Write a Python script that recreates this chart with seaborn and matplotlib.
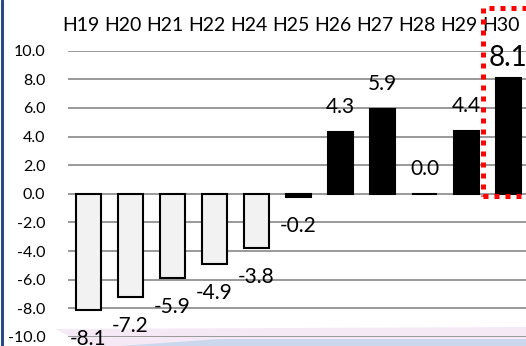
import numpy as np
import seaborn as sns
import matplotlib.pyplot as plt
from matplotlib.patches import Rectangle, Polygon
from matplotlib.lines import Line2D
import matplotlib.transforms as mtransforms

# --- data ---
years = ['H19', 'H20', 'H21', 'H22', 'H24', 'H25', 'H26', 'H27', 'H28', 'H29', 'H30']
values = [-8.1, -7.2, -5.9, -4.9, -3.8, -0.2, 4.3, 5.9, 0.0, 4.4, 8.1]
bar_colors = ['#f2f2f2'] * 5 + ['#000000'] * 6
y_ticks = np.arange(-10, 10.1, 2)
highlight = 'H30'

sns.set_theme(style="white")
plt.rcParams['font.family'] = ['Lato', 'DejaVu Sans']

W, H = 526, 346
fig = plt.figure(figsize=(W / 100, H / 100), dpi=100)
ax = fig.add_axes([67.5 / W, 9 / H, 462 / W, 286.3 / H])
ax.set_facecolor('none')

# background decoration (slide template swoosh + left border)
fig.patches.append(Polygon([(55 / W, 1 - 329 / H), (1, 1 - 327 / H), (1, 0), (90 / W, 0)],
                           closed=True, transform=fig.transFigure, facecolor='#f5e9f5',
                           edgecolor='none', zorder=-2))
fig.patches.append(Polygon([(120 / W, 0), (220 / W, 1 - 339 / H), (1, 1 - 339 / H), (1, 0)],
                           closed=True, transform=fig.transFigure, facecolor='#cad7ec',
                           edgecolor='none', zorder=-1))
fig.add_artist(Line2D([1.5 / W, 1.5 / W], [0, 1], transform=fig.transFigure,
                      color='#2b4a8a', lw=2.2))

sns.barplot(x=years, y=values, hue=years, palette=bar_colors, order=years,
            width=0.6, edgecolor='black', linewidth=1.5, legend=False, ax=ax, zorder=3)

ax.set_xlim(-0.5, len(years) - 0.5)
ax.set_ylim(-10, 10)
ax.set_yticks(y_ticks)
ax.set_yticklabels([f'{t:.1f}' for t in y_ticks])
ax.yaxis.grid(True, color='#999999', lw=1.4, zorder=0)
ax.xaxis.grid(False)
for s in ax.spines.values():
    s.set_visible(False)

ax.xaxis.tick_top()
ax.tick_params(axis='x', length=0, pad=12, labelsize=14, colors='black')
ax.tick_params(axis='y', length=0, pad=16, labelsize=11.5, colors='black')
shift = mtransforms.ScaledTranslation(-8 / 100, 0, fig.dpi_scale_trans)
for lab in ax.get_xticklabels():
    lab.set_transform(lab.get_transform() + shift)
ax.set_xlabel('')
ax.set_ylabel('')

# value labels
for i, v in enumerate(values):
    big = years[i] == highlight
    off = (14 if big else 18) if v >= 0 else -21
    ax.annotate(f'{v:.1f}', (i, v), xytext=(0, off), textcoords='offset points',
                ha='center', va='center', fontsize=20 if big else 15, color='black',
                zorder=5)

# red dotted highlight box around the latest year
hi = years.index(highlight)
ax.add_patch(Rectangle((hi - 0.61, -0.14), 3, 13.1, fill=False, edgecolor='#ff0000',
                       lw=3.6, linestyle=(0, (1, 1.2)), joinstyle='round',
                       clip_on=False, zorder=6))

fig.savefig('out.png', dpi=100)
